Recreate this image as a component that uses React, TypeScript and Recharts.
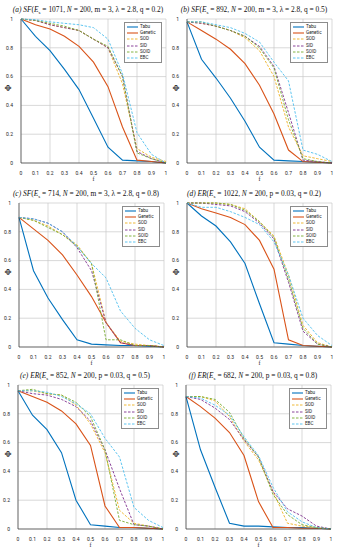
import React from 'react'
import {
  LineChart,
  Line,
  XAxis,
  YAxis,
  CartesianGrid,
  Legend,
} from 'recharts'

const F_VALUES = [0, 0.1, 0.2, 0.3, 0.4, 0.5, 0.6, 0.7, 0.8, 0.9, 1]
const X_TICKS = [0, 0.1, 0.2, 0.3, 0.4, 0.5, 0.6, 0.7, 0.8, 0.9, 1]
const Y_TICKS = [0, 0.2, 0.4, 0.6, 0.8, 1]

const SERIES_NAMES = ['Tabu', 'Genetic', 'SOD', 'SID', 'SOID', 'EBC']
const SERIES_COLORS = ['#0072BD', '#D95319', '#EDB120', '#7E2F8E', '#77AC30', '#4DBEEE']

// (a) SF, Es=1071, q=0.2
const tabuA = [1.0, 0.88, 0.78, 0.65, 0.51, 0.31, 0.11, 0.02, 0.015, 0.01, 0]
const geneticA = [1.0, 0.96, 0.93, 0.88, 0.81, 0.7, 0.53, 0.25, 0.02, 0.01, 0]
const sodA = [1.0, 0.99, 0.96, 0.94, 0.92, 0.86, 0.8, 0.55, 0.1, 0.04, 0.01]
const sidA = [1.0, 0.99, 0.96, 0.94, 0.92, 0.86, 0.8, 0.6, 0.08, 0.03, 0]
const soidA = [1.0, 0.99, 0.97, 0.95, 0.92, 0.86, 0.81, 0.6, 0.07, 0.03, 0]
const ebcA = [1.0, 0.995, 0.98, 0.97, 0.96, 0.94, 0.86, 0.62, 0.21, 0.06, 0]

// (b) SF, Es=892, q=0.5
const tabuB = [0.98, 0.72, 0.59, 0.45, 0.29, 0.11, 0.02, 0.015, 0.01, 0.005, 0]
const geneticB = [0.98, 0.92, 0.86, 0.79, 0.69, 0.54, 0.34, 0.09, 0.01, 0.005, 0]
const sodB = [0.98, 0.97, 0.95, 0.92, 0.87, 0.78, 0.6, 0.25, 0.05, 0.03, 0.01]
const sidB = [0.98, 0.97, 0.95, 0.92, 0.88, 0.81, 0.67, 0.35, 0.02, 0.01, 0]
const soidB = [0.98, 0.98, 0.95, 0.92, 0.88, 0.8, 0.66, 0.3, 0.03, 0.01, 0]
const ebcB = [0.98, 0.98, 0.96, 0.94, 0.9, 0.84, 0.7, 0.57, 0.09, 0.06, 0.01]

// (c) SF, Es=714, q=0.8
const tabuC = [0.9, 0.53, 0.34, 0.19, 0.05, 0.02, 0.015, 0.01, 0.01, 0.005, 0]
const geneticC = [0.9, 0.82, 0.74, 0.64, 0.5, 0.35, 0.17, 0.03, 0.01, 0.01, 0]
const sodC = [0.9, 0.88, 0.84, 0.78, 0.71, 0.58, 0.17, 0.04, 0.02, 0.01, 0]
const sidC = [0.9, 0.89, 0.86, 0.8, 0.69, 0.53, 0.17, 0.03, 0.01, 0.01, 0]
const soidC = [0.9, 0.88, 0.83, 0.78, 0.7, 0.58, 0.05, 0.05, 0.01, 0.01, 0]
const ebcC = [0.9, 0.89, 0.86, 0.8, 0.7, 0.58, 0.48, 0.25, 0.13, 0.05, 0.01]

// (d) ER, Es=1022, q=0.2
const tabuD = [1.0, 0.91, 0.84, 0.73, 0.58, 0.3, 0.03, 0.02, 0.01, 0.005, 0]
const geneticD = [1.0, 0.96, 0.93, 0.9, 0.85, 0.74, 0.54, 0.05, 0.01, 0.005, 0]
const sodD = [1.0, 1.0, 1.0, 0.99, 0.96, 0.87, 0.77, 0.5, 0.15, 0.03, 0]
const sidD = [1.0, 1.0, 0.99, 0.98, 0.94, 0.86, 0.75, 0.45, 0.11, 0.02, 0]
const soidD = [1.0, 1.0, 1.0, 0.99, 0.95, 0.87, 0.76, 0.47, 0.13, 0.02, 0]
const ebcD = [1.0, 0.97, 0.97, 0.94, 0.9, 0.85, 0.73, 0.5, 0.2, 0.08, 0.01]

// (e) ER, Es=852, q=0.5
const tabuE = [0.96, 0.79, 0.69, 0.53, 0.2, 0.03, 0.02, 0.01, 0.01, 0.005, 0]
const geneticE = [0.96, 0.92, 0.88, 0.82, 0.73, 0.58, 0.16, 0.01, 0.01, 0.005, 0]
const sodE = [0.96, 0.96, 0.94, 0.93, 0.86, 0.73, 0.53, 0.13, 0.04, 0.02, 0]
const sidE = [0.96, 0.94, 0.93, 0.9, 0.85, 0.75, 0.55, 0.28, 0.03, 0.02, 0]
const soidE = [0.96, 0.97, 0.94, 0.93, 0.88, 0.78, 0.55, 0.06, 0.03, 0.02, 0]
const ebcE = [0.96, 0.96, 0.95, 0.92, 0.87, 0.8, 0.63, 0.5, 0.15, 0.06, 0.01]

// (f) ER, Es=682, q=0.8
const tabuF = [0.92, 0.55, 0.29, 0.04, 0.02, 0.02, 0.015, 0.01, 0.01, 0.005, 0]
const geneticF = [0.92, 0.85, 0.77, 0.67, 0.51, 0.19, 0.01, 0.01, 0.005, 0.005, 0]
const sodF = [0.92, 0.92, 0.89, 0.78, 0.61, 0.48, 0.26, 0.04, 0.02, 0.01, 0]
const sidF = [0.92, 0.9, 0.84, 0.76, 0.62, 0.5, 0.26, 0.14, 0.09, 0.02, 0]
const soidF = [0.92, 0.92, 0.9, 0.81, 0.63, 0.5, 0.24, 0.1, 0.03, 0.01, 0]
const ebcF = [0.92, 0.91, 0.86, 0.79, 0.64, 0.51, 0.29, 0.12, 0.05, 0.01, 0]

const PANELS = [
  { tag: '(a)', model: 'SF', es: '1071', extra: ['m = 3', 'λ = 2.8', 'q = 0.2'], col: 0, left: 0, top: 0, series: [tabuA, geneticA, sodA, sidA, soidA, ebcA] },
  { tag: '(b)', model: 'SF', es: '892', extra: ['m = 3', 'λ = 2.8', 'q = 0.5'], col: 1, left: 166, top: 0, series: [tabuB, geneticB, sodB, sidB, soidB, ebcB] },
  { tag: '(c)', model: 'SF', es: '714', extra: ['m = 3', 'λ = 2.8', 'q = 0.8'], col: 0, left: -2, top: 184, series: [tabuC, geneticC, sodC, sidC, soidC, ebcC] },
  { tag: '(d)', model: 'ER', es: '1022', extra: ['p = 0.03', 'q = 0.2'], col: 1, left: 166, top: 184, series: [tabuD, geneticD, sodD, sidD, soidD, ebcD] },
  { tag: '(e)', model: 'ER', es: '852', extra: ['p = 0.03', 'q = 0.5'], col: 0, left: -3, top: 366, series: [tabuE, geneticE, sodE, sidE, soidE, ebcE] },
  { tag: '(f)', model: 'ER', es: '682', extra: ['p = 0.03', 'q = 0.8'], col: 1, left: 165, top: 366, series: [tabuF, geneticF, sodF, sidF, soidF, ebcF] },
]

const AXIS_COLOR = '#262626'
const fmt = (v: number) => String(Math.round(v * 10) / 10)

function LegendBox() {
  return (
    <div
      style={{
        background: '#fff',
        border: '0.6px solid #8c8c8c',
        padding: '1px 2px',
        fontFamily: 'Roboto, "Liberation Sans", sans-serif',
        fontSize: 4.6,
        lineHeight: '6.2px',
        color: '#222',
      }}
    >
      {SERIES_NAMES.map((name, i) => (
        <div key={name} style={{ display: 'flex', alignItems: 'center', height: 6.2 }}>
          <svg width={11} height={4} style={{ marginRight: 2 }}>
            <line
              x1={0}
              y1={2}
              x2={11}
              y2={2}
              stroke={SERIES_COLORS[i]}
              strokeWidth={i < 2 ? 1.1 : 0.9}
              strokeDasharray={i < 2 ? undefined : '2.5 1.5'}
            />
          </svg>
          <span>{name}</span>
        </div>
      ))}
    </div>
  )
}

function Panel({ p }: { p: (typeof PANELS)[number] }) {
  const data = F_VALUES.map((f, i) => {
    const row: Record<string, number> = { f }
    SERIES_NAMES.forEach((name, k) => {
      row[name] = p.series[k][i]
    })
    return row
  })
  // keep the Φ label at the same page x in each column
  const phiOffset = 8 + p.col * 168 - p.left

  return (
    <div style={{ position: 'absolute', left: p.left, top: p.top, width: 170, height: 182 }}>
      <div
        style={{
          position: 'absolute',
          top: 5,
          left: 3,
          width: 170,
          textAlign: 'center',
          whiteSpace: 'nowrap',
          fontFamily: '"Liberation Serif", "DejaVu Serif", serif',
          fontSize: 7.4,
          lineHeight: '9px',
          color: '#111',
        }}
      >
        <i>{p.tag}</i> <i>{p.model}</i>(<i>E</i>
        <sub style={{ fontSize: 5 }}>s</sub> = {p.es}, <i>N</i> = 200
        {p.extra.map((e) => (
          <span key={e}>, {e}</span>
        ))}
        )
      </div>
      <LineChart width={170} height={182} data={data} margin={{ top: 19, right: 4, left: 0, bottom: 0 }}>
        <CartesianGrid stroke="#c9c9c9" strokeWidth={0.7} />
        <XAxis
          dataKey="f"
          type="number"
          domain={[0, 1]}
          ticks={X_TICKS}
          tickFormatter={fmt}
          height={19}
          tickLine={false}
          tickMargin={2}
          stroke={AXIS_COLOR}
          strokeWidth={0.6}
          tick={{ fontSize: 5, fill: AXIS_COLOR, fontFamily: 'Roboto, sans-serif' }}
          label={{ value: 'f', position: 'insideBottom', offset: 1, fontSize: 6, fill: AXIS_COLOR }}
        />
        <XAxis
          xAxisId="top"
          orientation="top"
          dataKey="f"
          type="number"
          domain={[0, 1]}
          height={0}
          tick={false}
          tickLine={false}
          stroke={AXIS_COLOR}
          strokeWidth={0.6}
        />
        <YAxis
          type="number"
          domain={[0, 1]}
          ticks={Y_TICKS}
          tickFormatter={fmt}
          width={21}
          tickLine={false}
          tickMargin={2}
          stroke={AXIS_COLOR}
          strokeWidth={0.6}
          tick={{ fontSize: 5, fill: AXIS_COLOR, fontFamily: 'Roboto, sans-serif' }}
          label={{ value: 'Φ', angle: -90, position: 'insideLeft', offset: phiOffset, fontSize: 7.5, fontWeight: 'bold', fill: AXIS_COLOR }}
        />
        <YAxis
          yAxisId="right"
          orientation="right"
          type="number"
          domain={[0, 1]}
          width={0}
          tick={false}
          tickLine={false}
          stroke={AXIS_COLOR}
          strokeWidth={0.6}
        />
        <Legend
          layout="horizontal"
          verticalAlign="middle"
          align="center"
          content={() => <LegendBox />}
          wrapperStyle={{ left: 124, top: 22, width: 38 }}
        />
        {SERIES_NAMES.map((name, i) => (
          <Line
            key={name}
            dataKey={name}
            stroke={SERIES_COLORS[i]}
            strokeWidth={i < 2 ? 1.1 : 0.9}
            strokeDasharray={i < 2 ? undefined : '2.5 1.5'}
            dot={false}
            activeDot={false}
            isAnimationActive={false}
          />
        ))}
      </LineChart>
    </div>
  )
}

export default function App() {
  return (
    <div style={{ position: 'absolute', left: 0, top: 0, width: 338, height: 550, background: '#fff' }}>
      {PANELS.map((p) => (
        <Panel key={p.tag} p={p} />
      ))}
    </div>
  )
}
